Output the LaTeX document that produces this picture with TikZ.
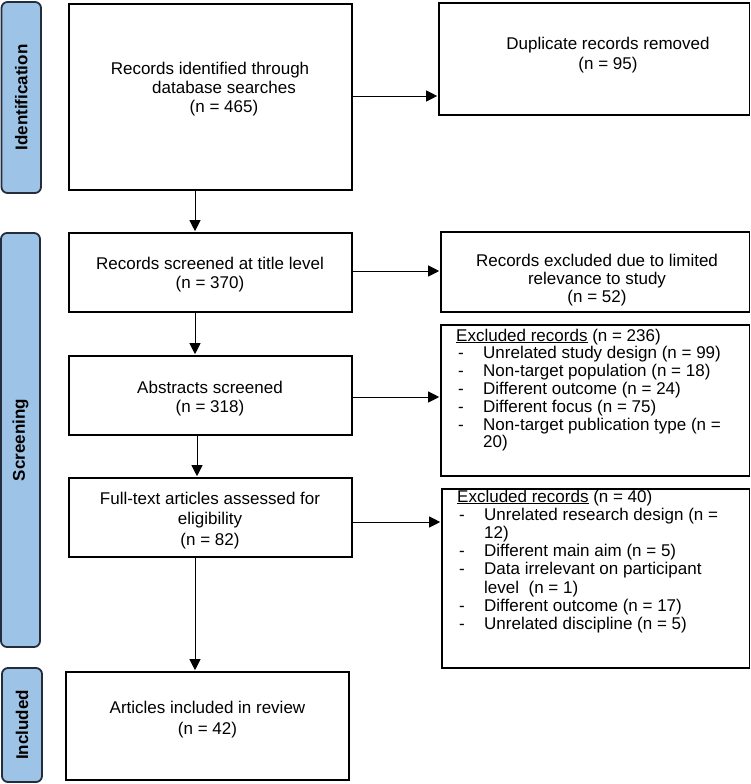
\documentclass[tikz,border=0pt]{standalone}
\usepackage{fontspec}
\setmainfont{Liberation Sans}
\usetikzlibrary{arrows.meta}
\definecolor{lblfill}{RGB}{157,195,230}
\definecolor{lbldraw}{RGB}{35,45,60}
\newcommand{\litem}[1]{\hspace*{2pt}\makebox[25pt][l]{-}#1}
\newcommand{\lcont}[1]{\hspace*{27pt}#1}
\begin{document}
\begin{tikzpicture}[x=1pt,y=-1pt,
  boxst/.style={draw=black,line width=1.6pt,inner sep=0pt},
  phase/.style={draw=lbldraw,fill=lblfill,line width=1.8pt,rounded corners=6pt,inner sep=0pt,
    font=\fontsize{17}{20}\selectfont\bfseries,rotate=90},
  txt/.style={inner sep=0pt,font=\fontsize{17}{19.5}\selectfont,align=center,anchor=north},
  lst/.style={inner sep=0pt,font=\fontsize{17}{18}\selectfont,align=left,anchor=north west},
  arr/.style={line width=1pt,-{Triangle[length=11pt,width=11pt]},shorten >=1pt}
]
\useasboundingbox (0,0) rectangle (751,784);

% phase labels
\node[phase,minimum width=191pt,minimum height=39.5pt] (p1) at (21.25,97.5) {Identification};
\node[phase,minimum width=414pt,minimum height=39pt] (p2) at (20.5,440) {Screening};
\node[phase,minimum width=114pt,minimum height=40pt] (p3) at (22,725) {Included};

% left column boxes
\node[boxst,minimum width=283pt,minimum height=186pt] (b1) at (210.5,97) {};
\node[boxst,minimum width=283pt,minimum height=79pt] (b2) at (210.5,272.5) {};
\node[boxst,minimum width=283pt,minimum height=79pt] (b3) at (210.5,395.5) {};
\node[boxst,minimum width=283pt,minimum height=79pt] (b4) at (210.5,517.5) {};
\node[boxst,minimum width=283pt,minimum height=108pt] (b5) at (207.5,726) {};

% right column boxes
\node[boxst,minimum width=310.5pt,minimum height=112pt] (r1) at (594.25,59) {};
\node[boxst,minimum width=308.5pt,minimum height=80pt] (r2) at (595.25,272) {};
\node[boxst,minimum width=308.5pt,minimum height=151pt] (r3) at (595.25,400.5) {};
\node[boxst,minimum width=307.5pt,minimum height=179pt] (r4) at (595.75,578.5) {};

% texts
\node[txt,font=\fontsize{17}{19.2}\selectfont] (t1) at (210,61.5) {Records identified through\\\hspace*{28pt}database searches\\\hspace*{28pt}(n = 465)};
\node[txt,font=\fontsize{17}{20}\selectfont] (tr1) at (608,36.5) {Duplicate records removed\\(n = 95)};
\node[txt] (t2) at (210,256.5) {Records screened at title level\\(n = 370)};
\node[txt,font=\fontsize{17}{18}\selectfont] (tr2) at (597,253.5) {Records excluded due to limited\\relevance to study\\(n = 52)};
\node[txt] (t3) at (210,380.5) {Abstracts screened\\(n = 318)};
\node[txt,font=\fontsize{17}{20.5}\selectfont] (t4) at (210,491.5) {Full-text articles assessed for\\eligibility\\(n = 82)};
\node[txt,font=\fontsize{17}{21}\selectfont] (t5) at (207.5,700.5) {Articles included in review\\(n = 42)};

\node[lst,font=\fontsize{17}{17.8}\selectfont] (tr3) at (456,328.5) {\underline{Excluded records} (n = 236)\\
\litem{Unrelated study design (n = 99)}\\
\litem{Non-target population (n = 18)}\\
\litem{Different outcome (n = 24)}\\
\litem{Different focus (n = 75)}\\
\litem{Non-target publication type (n =}\\
\lcont{20)}};

\node[lst,font=\fontsize{17}{18.2}\selectfont] (tr4) at (457,489.5) {\underline{Excluded records} (n = 40)\\
\litem{Unrelated research design (n =}\\
\lcont{12)}\\
\litem{Different main aim (n = 5)}\\
\litem{Data irrelevant on participant}\\
\lcont{level~~(n = 1)}\\
\litem{Different outcome (n = 17)}\\
\litem{Unrelated discipline (n = 5)}};

% vertical arrows
\draw[arr] ([xshift=-15.5pt]b1.south) -- ([xshift=-15.5pt]b2.north);
\draw[arr] ([xshift=-15.5pt]b2.south) -- ([xshift=-15.5pt]b3.north);
\draw[arr] ([xshift=-13.5pt]b3.south) -- ([xshift=-13.5pt]b4.north);
\draw[arr] ([xshift=-15.5pt]b4.south) -- ([xshift=-12.5pt]b5.north);

% horizontal arrows
\coordinate (a1) at ([yshift=1pt]b1.east);
\coordinate (a2) at ([yshift=1.5pt]b2.east);
\coordinate (a3) at ([yshift=-1.5pt]b3.east);
\coordinate (a4) at ([yshift=-4.5pt]b4.east);
\draw[arr] (a1) -- (r1.west |- a1);
\draw[arr] (a2) -- (r2.west |- a2);
\draw[arr] (a3) -- (r3.west |- a3);
\draw[arr] (a4) -- (r4.west |- a4);
\end{tikzpicture}
\end{document}
